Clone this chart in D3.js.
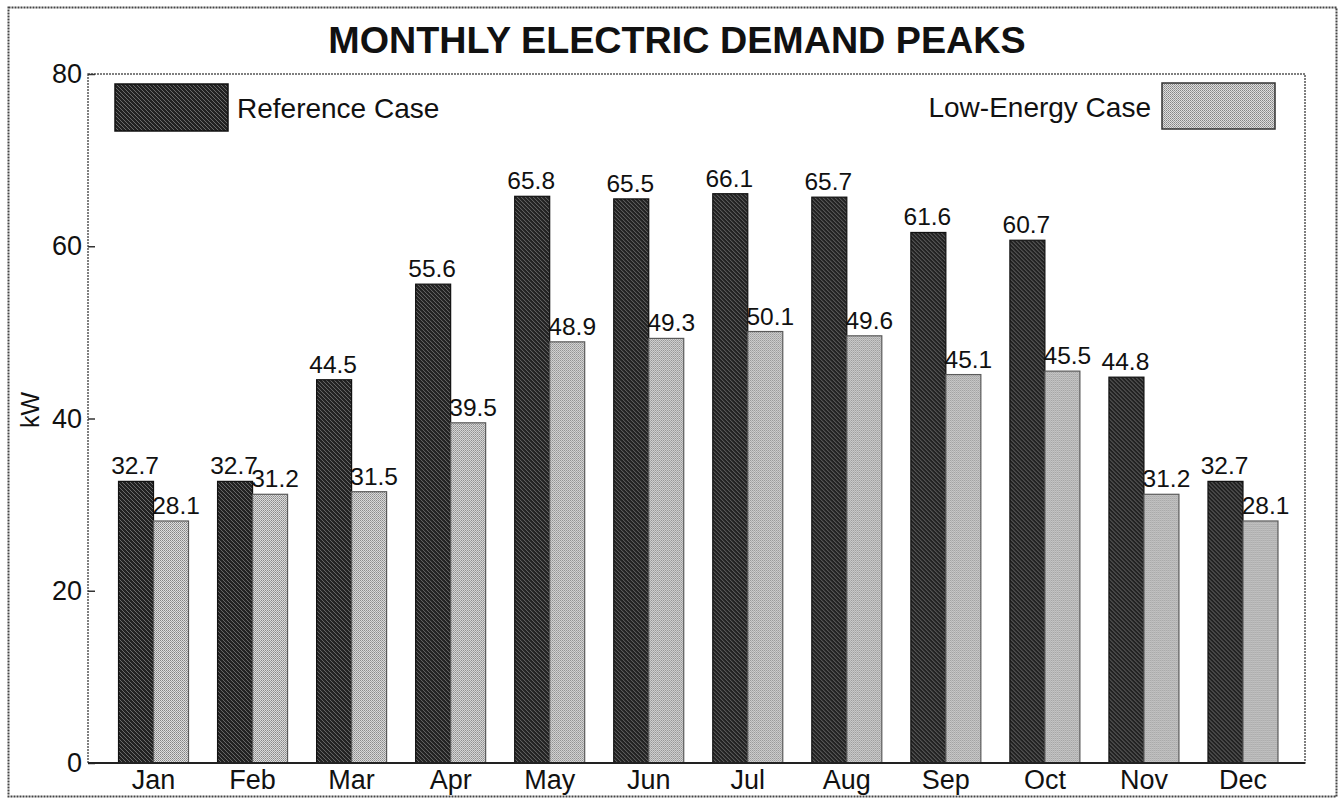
<!DOCTYPE html>
<html>
<head>
<meta charset="utf-8">
<script src="https://cdn.jsdelivr.net/npm/d3@7/dist/d3.min.js"></script>
<style>
  html, body { margin: 0; padding: 0; background: #fff; }
  svg { display: block; font-family: "Liberation Sans", Arial, Helvetica, sans-serif; }
</style>
</head>
<body>
<svg id="chart" width="1341" height="799"></svg>
<script>
// Monthly peak electric demand (kW) for the two building cases
const months = ["Jan", "Feb", "Mar", "Apr", "May", "Jun", "Jul", "Aug", "Sep", "Oct", "Nov", "Dec"];
const referenceCase = [32.7, 32.7, 44.5, 55.6, 65.8, 65.5, 66.1, 65.7, 61.6, 60.7, 44.8, 32.7];
const lowEnergyCase = [28.1, 31.2, 31.5, 39.5, 48.9, 49.3, 50.1, 49.6, 45.1, 45.5, 31.2, 28.1];
const seriesNames = ["Reference Case", "Low-Energy Case"];
const yTicks = [0, 20, 40, 60, 80];

const svg = d3.select("#chart");
const plot = { left: 88, right: 1305, top: 74, bottom: 763 };

// Halftone-like fills for the two series
const defs = svg.append("defs");
const dark = defs.append("pattern").attr("id", "darkFill")
  .attr("width", 4).attr("height", 4).attr("patternUnits", "userSpaceOnUse");
dark.append("rect").attr("width", 4).attr("height", 4).attr("fill", "#222");
[[0, 0], [1, 1], [2, 2], [3, 3]].forEach(([x, y]) =>
  dark.append("rect").attr("x", x).attr("y", y).attr("width", 1).attr("height", 1).attr("fill", "#6a6a6a"));

const light = defs.append("pattern").attr("id", "lightFill")
  .attr("width", 2).attr("height", 2).attr("patternUnits", "userSpaceOnUse");
light.append("rect").attr("width", 2).attr("height", 2).attr("fill", "#dedede");
light.append("rect").attr("x", 0).attr("y", 0).attr("width", 1).attr("height", 1).attr("fill", "#858585");
light.append("rect").attr("x", 1).attr("y", 1).attr("width", 1).attr("height", 1).attr("fill", "#9e9e9e");

const fills = ["url(#darkFill)", "url(#lightFill)"];
const strokes = ["#111", "#5a5a5a"];

// Outer frame
svg.append("rect")
  .attr("x", 8.5).attr("y", 7.5).attr("width", 1328).attr("height", 789)
  .attr("fill", "none").attr("stroke", "#444").attr("stroke-width", 2)
  .attr("stroke-dasharray", "2 1");

// Title
svg.append("text")
  .attr("x", 677).attr("y", 53)
  .attr("text-anchor", "middle")
  .attr("font-size", 37.7).attr("font-weight", "bold").attr("fill", "#111")
  .text("MONTHLY ELECTRIC DEMAND PEAKS");

// Scales
const x = d3.scaleBand().domain(months).range([104, 1292.5]).padding(0);
const inner = d3.scaleBand().domain([0, 1]).range([x.bandwidth() / 2 - 35, x.bandwidth() / 2 + 35]);
const y = d3.scaleLinear().domain([0, 80]).range([plot.bottom, plot.top]);

// Plot area border
svg.append("rect")
  .attr("x", plot.left).attr("y", plot.top)
  .attr("width", plot.right - plot.left).attr("height", plot.bottom - plot.top)
  .attr("fill", "none").attr("stroke", "#555").attr("stroke-width", 1.5)
  .attr("stroke-dasharray", "2 1");

// Bars
const groups = svg.append("g").selectAll("g")
  .data(months)
  .join("g")
  .attr("transform", d => `translate(${x(d)},0)`);

const barData = (m, i) => [
  { s: 0, v: referenceCase[i] },
  { s: 1, v: lowEnergyCase[i] }
];

groups.selectAll("rect")
  .data(barData)
  .join("rect")
  .attr("x", d => inner(d.s))
  .attr("y", d => y(d.v))
  .attr("width", inner.bandwidth())
  .attr("height", d => y(0) - y(d.v))
  .attr("fill", d => fills[d.s])
  .attr("stroke", d => strokes[d.s])
  .attr("stroke-width", 1.2);

// Value labels
groups.selectAll("text")
  .data(barData)
  .join("text")
  .attr("x", d => inner(d.s) + inner.bandwidth() / 2 + (d.s === 1 ? 5 : -1))
  .attr("y", d => y(d.v) - 7)
  .attr("text-anchor", "middle")
  .attr("font-size", 24.5).attr("fill", "#111")
  .text(d => d.v.toFixed(1));

// Y axis
const yAxis = svg.append("g")
  .attr("transform", `translate(${plot.left},0)`)
  .call(d3.axisLeft(y).tickValues(yTicks).tickSizeInner(-7).tickSizeOuter(0).tickPadding(6));
yAxis.select(".domain").remove();
yAxis.selectAll(".tick line").attr("stroke", "#333").attr("stroke-width", 1.5);
yAxis.selectAll(".tick text")
  .attr("font-size", 27).attr("fill", "#111")
  .attr("font-family", "'Liberation Sans', Arial, sans-serif");

// X axis
const xAxis = svg.append("g")
  .attr("transform", `translate(0,${plot.bottom})`)
  .call(d3.axisBottom(x).tickSize(0).tickPadding(7));
xAxis.select(".domain")
  .attr("d", `M${plot.left},0H${plot.right}`)
  .attr("stroke", "#222").attr("stroke-width", 2);
xAxis.selectAll(".tick text")
  .attr("font-size", 27).attr("fill", "#111")
  .attr("font-family", "'Liberation Sans', Arial, sans-serif");

// Y axis title
svg.append("text")
  .attr("transform", "translate(39,410) rotate(-90)")
  .attr("text-anchor", "middle")
  .attr("font-size", 25).attr("fill", "#111")
  .text("kW");

// Legend
const legend = svg.append("g");
legend.append("rect")
  .attr("x", 115).attr("y", 84).attr("width", 113).attr("height", 47)
  .attr("fill", fills[0]).attr("stroke", strokes[0]).attr("stroke-width", 1.5);
legend.append("text")
  .attr("x", 237).attr("y", 118)
  .attr("font-size", 28).attr("fill", "#111")
  .text(seriesNames[0]);
legend.append("rect")
  .attr("x", 1162).attr("y", 83).attr("width", 113).attr("height", 46)
  .attr("fill", fills[1]).attr("stroke", "#333").attr("stroke-width", 1.5);
legend.append("text")
  .attr("x", 1151).attr("y", 117)
  .attr("text-anchor", "end")
  .attr("font-size", 28).attr("fill", "#111")
  .text(seriesNames[1]);
</script>
</body>
</html>
